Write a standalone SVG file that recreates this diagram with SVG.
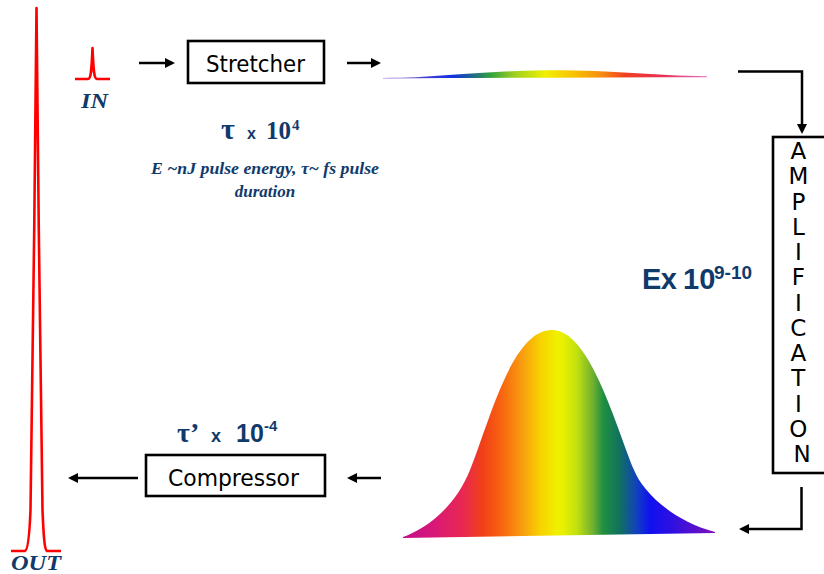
<svg xmlns="http://www.w3.org/2000/svg" width="824" height="574" viewBox="0 0 824 574">
<style>
.pulse{fill:none;stroke:#ff0000;stroke-width:2.6;stroke-linejoin:round}
.box{fill:#fff;stroke:#000;stroke-width:2.6}
.conn{fill:none;stroke:#000;stroke-width:2.5}
.lbl{font-family:"DejaVu Sans",Verdana,sans-serif;fill:#000}
.navy{fill:#0f3a6b}
.ser{font-family:"Liberation Serif","Times New Roman",serif;font-weight:bold}
.serit{font-family:"Liberation Serif","Times New Roman",serif;font-weight:bold;font-style:italic}
.sans{font-family:"Liberation Sans",Arial,sans-serif;font-weight:bold}
</style>
<defs>
<marker id="ah" viewBox="0 0 10 10" refX="7" refY="5" markerWidth="4" markerHeight="4" orient="auto" markerUnits="strokeWidth">
<path d="M0,0 L10,5 L0,10 z" fill="#000"/>
</marker>
<linearGradient id="gBig" gradientUnits="userSpaceOnUse" x1="403" y1="0" x2="715" y2="0">
<stop offset="0" stop-color="#c0108c"/>
<stop offset="0.096" stop-color="#d81878"/>
<stop offset="0.192" stop-color="#e82850"/>
<stop offset="0.256" stop-color="#f04018"/>
<stop offset="0.311" stop-color="#f86010"/>
<stop offset="0.385" stop-color="#f8a010"/>
<stop offset="0.439" stop-color="#f8d000"/>
<stop offset="0.494" stop-color="#f0f000"/>
<stop offset="0.513" stop-color="#e8f000"/>
<stop offset="0.558" stop-color="#c0e010"/>
<stop offset="0.609" stop-color="#70b030"/>
<stop offset="0.641" stop-color="#209040"/>
<stop offset="0.696" stop-color="#107060"/>
<stop offset="0.75" stop-color="#1040c0"/>
<stop offset="0.792" stop-color="#1010f0"/>
<stop offset="0.865" stop-color="#3010e0"/>
<stop offset="0.952" stop-color="#6010c8"/>
<stop offset="1" stop-color="#8010c0"/>
</linearGradient>
<linearGradient id="gThin" gradientUnits="userSpaceOnUse" x1="383" y1="0" x2="707" y2="0">
<stop offset="0" stop-color="#a070d8"/>
<stop offset="0.114" stop-color="#5040d0"/>
<stop offset="0.216" stop-color="#1030e0"/>
<stop offset="0.284" stop-color="#207080"/>
<stop offset="0.33" stop-color="#30a040"/>
<stop offset="0.407" stop-color="#a0d020"/>
<stop offset="0.5" stop-color="#f0f000"/>
<stop offset="0.593" stop-color="#f8c000"/>
<stop offset="0.67" stop-color="#f89010"/>
<stop offset="0.747" stop-color="#f04020"/>
<stop offset="0.855" stop-color="#e83050"/>
<stop offset="1" stop-color="#e070c0"/>
</linearGradient>
</defs>
<rect width="824" height="574" fill="#fff"/>

<g id="out-pulse">
<path class="pulse" d="M11,551 L25,551 C28,550 29.5,535 30.5,510 C32.5,420 35,150 36.5,8 C38,150 40.5,420 42.5,510 C43.5,535 44.5,550 47,551 L61,551"/>
<text class="serit navy" x="11" y="570" font-size="21" textLength="50" lengthAdjust="spacingAndGlyphs">OUT</text>
</g>

<g id="in-pulse">
<path class="pulse" d="M75,79 L88,79 C91,79 91.6,70 92.5,48 C93.4,70 94,79 97,79 L110,79"/>
<text class="serit navy" x="81" y="108" font-size="21" textLength="27" lengthAdjust="spacingAndGlyphs">IN</text>
</g>

<g id="stretcher">
<rect class="box" x="188" y="41" width="136" height="42"/>
<text class="lbl" x="206" y="72" font-size="23" textLength="99" lengthAdjust="spacingAndGlyphs">Stretcher</text>
</g>

<g id="stretcher-label">
<text class="ser navy" y="139"><tspan x="221" font-size="30">τ</tspan><tspan x="247" class="sans" font-size="16">x</tspan><tspan x="266" font-size="25">10</tspan><tspan x="292" y="130" font-size="15">4</tspan></text>
<text class="serit navy" x="265" y="174" font-size="17" text-anchor="middle" textLength="228" lengthAdjust="spacingAndGlyphs">E ~nJ  pulse energy, τ~ fs pulse</text>
<text class="serit navy" x="265" y="197" font-size="17" text-anchor="middle">duration</text>
</g>

<g id="chirped-pulse">
<path d="M383,78 C440,77.8 470,71.5 545,70.3 C615,70 650,75.5 707,76.3 L707,77.2 C600,77.4 500,77.8 383,78.6 Z" fill="url(#gThin)"/>
</g>

<g id="amplification">
<rect class="box" x="773" y="137" width="60" height="336"/>
<text class="lbl" font-size="23" text-anchor="middle">
<tspan x="802" y="159">A</tspan>
<tspan x="802" y="184.3">M</tspan>
<tspan x="802" y="209.5">P</tspan>
<tspan x="802" y="234.8">L</tspan>
<tspan x="802" y="260">I</tspan>
<tspan x="802" y="285.3">F</tspan>
<tspan x="802" y="310.5">I</tspan>
<tspan x="802" y="335.8">C</tspan>
<tspan x="802" y="361">A</tspan>
<tspan x="802" y="386.3">T</tspan>
<tspan x="802" y="411.5">I</tspan>
<tspan x="802" y="436.8">O</tspan>
<tspan x="802" y="462">N</tspan>
</text>
</g>

<g id="amp-label">
<text class="sans navy" y="289"><tspan x="642" font-size="29" letter-spacing="-0.5">Ex</tspan><tspan x="683" font-size="29">10</tspan><tspan x="714" y="279" font-size="19">9-10</tspan></text>
</g>

<g id="amplified-pulse">
<path fill="url(#gBig)" d="M403,537 C423,530 454,510 470,470 C490,420 512,330 552,330 C589,330 614,420 634,470 C642,490 670,520 715,532 L715,533 L403,538 Z"/>
</g>

<g id="compressor">
<rect class="box" x="146" y="455" width="179" height="41"/>
<text class="lbl" x="168" y="486" font-size="23" textLength="131" lengthAdjust="spacingAndGlyphs">Compressor</text>
</g>

<g id="compressor-label">
<text class="sans navy" y="442"><tspan x="177" class="ser" font-size="28">τ’</tspan><tspan x="211" font-size="18">x</tspan><tspan x="236" font-size="25">10</tspan><tspan x="264" y="431" font-size="15">-4</tspan></text>
</g>

<g id="connectors">
<path class="conn" d="M139,63 H172" marker-end="url(#ah)"/>
<path class="conn" d="M347,63 H378" marker-end="url(#ah)"/>
<path class="conn" d="M738,71.5 H802 V131" marker-end="url(#ah)"/>
<path class="conn" d="M801.5,487 V529 H742" marker-end="url(#ah)"/>
<path class="conn" d="M381,478 H350" marker-end="url(#ah)"/>
<path class="conn" d="M138,478 H71" marker-end="url(#ah)"/>
</g>
</svg>
